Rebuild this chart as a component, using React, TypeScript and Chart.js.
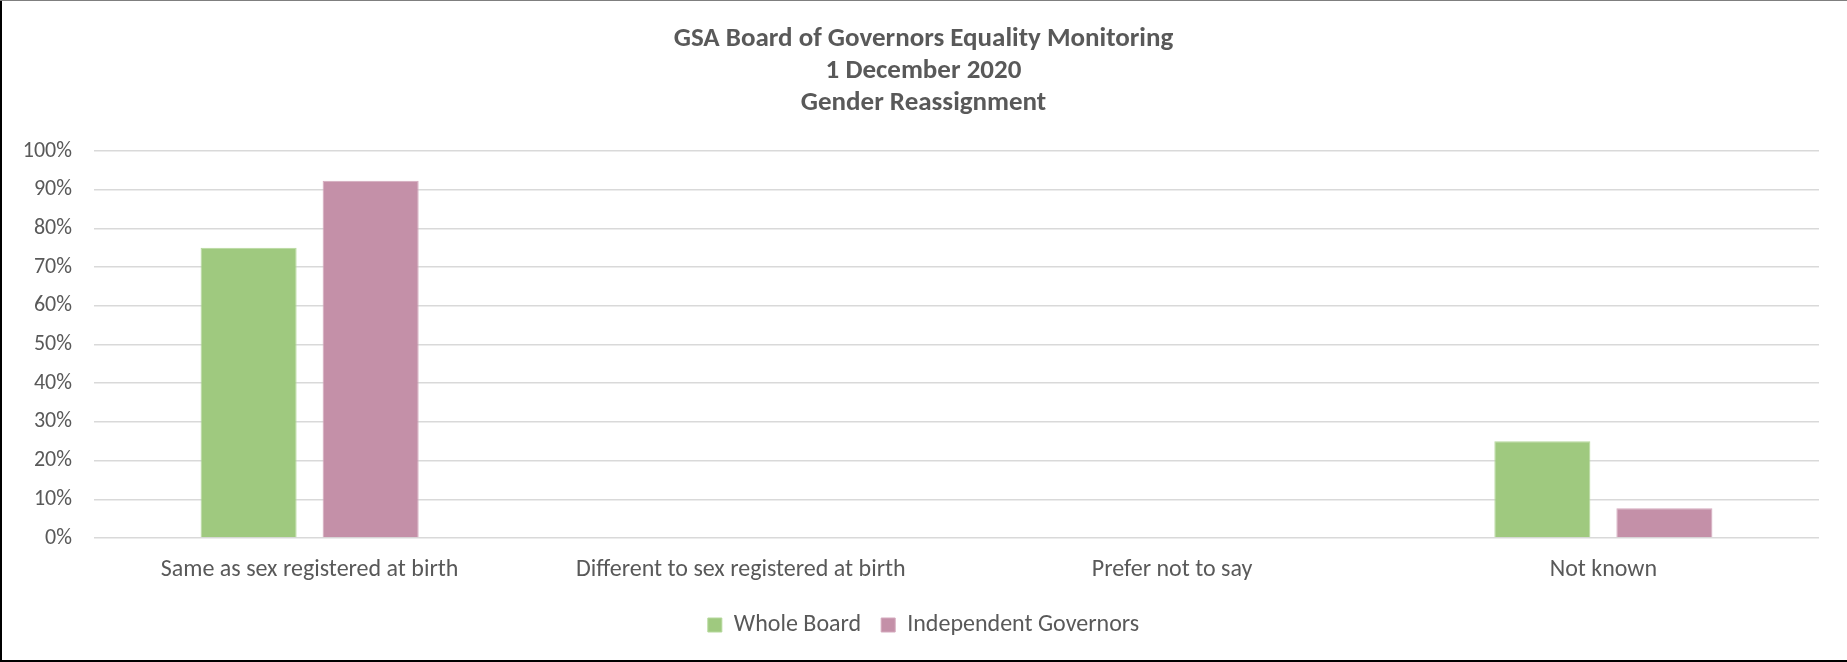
import React, { useEffect, useRef } from "react";
import { Chart, registerables } from "chart.js";

Chart.register(...registerables);

const titleLines = [
  "GSA Board of Governors Equality Monitoring",
  "1 December 2020",
  "Gender Reassignment",
];
const categories = [
  "Same as sex registered at birth",
  "Different to sex registered at birth",
  "Prefer not to say",
  "Not known",
];
const wholeBoard = [0.75, 0, 0, 0.25];
const independentGovernors = [0.923, 0, 0, 0.077];
const seriesNames = ["Whole Board", "Independent Governors"];

const FONT = "Calibri, Carlito, Lato, sans-serif";
const TEXT = "#595959";

const borderPlugin = {
  id: "frameBorder",
  afterDraw(chart: any) {
    const ctx = chart.ctx;
    const w = chart.width;
    const h = chart.height;
    ctx.save();
    ctx.fillStyle = "#000";
    ctx.fillRect(0, 0, 2, h);
    ctx.fillRect(0, h - 2, w, 2);
    ctx.fillStyle = "#7f7f7f";
    ctx.fillRect(0, 0, w, 1);
    ctx.restore();
  },
};

export default function App() {
  const ref = useRef<HTMLCanvasElement>(null);
  useEffect(() => {
    if (!ref.current) return;
    const chart = new Chart(ref.current, {
      type: "bar",
      data: {
        labels: categories,
        datasets: [
          {
            label: seriesNames[0],
            data: wholeBoard,
            backgroundColor: "#9FC97F",
            borderColor: "#B5D89C",
            borderWidth: 1,
          },
          {
            label: seriesNames[1],
            data: independentGovernors,
            backgroundColor: "#C490A8",
            borderColor: "#D4A9BD",
            borderWidth: 1,
          },
        ],
      },
      options: {
        responsive: false,
        animation: false,
        layout: { padding: { left: 0, right: 0, top: 0, bottom: 15 } },
        datasets: {
          bar: { categoryPercentage: 0.566, barPercentage: 0.787 },
        },
        plugins: {
          title: {
            display: true,
            text: titleLines,
            color: TEXT,
            font: { family: FONT, size: 27, weight: "bold", lineHeight: 32 / 27 },
            padding: { top: 23, bottom: 32 },
          },
          legend: {
            position: "bottom",
            labels: {
              color: TEXT,
              font: { family: FONT, size: 24 },
              boxWidth: 14,
              boxHeight: 14,
              padding: 20,
            },
          },
          tooltip: { enabled: false },
        },
        scales: {
          x: {
            grid: { display: false, drawTicks: false },
            border: { display: false },
            ticks: {
              color: TEXT,
              font: { family: FONT, size: 24 },
              padding: 18,
              maxRotation: 0,
            },
            afterFit: (s: any) => {
              s.height = 55;
            },
          },
          y: {
            min: 0,
            max: 1,
            grid: { color: "#D9D9D9", lineWidth: 1.5, drawTicks: false },
            border: { display: false },
            ticks: {
              stepSize: 0.1,
              color: TEXT,
              font: { family: FONT, size: 22 },
              padding: 22,
              callback: (v: any) => Math.round(Number(v) * 100) + "%",
            },
            afterFit: (s: any) => {
              s.width = 94;
            },
          },
          yRightSpace: {
            position: "right",
            min: 0,
            max: 1,
            grid: { display: false, drawTicks: false },
            border: { display: false },
            ticks: { display: false },
            afterFit: (s: any) => {
              s.width = 28;
            },
          },
        },
      },
      plugins: [borderPlugin],
    });
    return () => chart.destroy();
  }, []);
  return (
    <div style={{ position: "fixed", left: 0, top: 0, width: 1847, height: 662, background: "#fff" }}>
      <canvas ref={ref} width={1847} height={662} style={{ display: "block" }} />
    </div>
  );
}
